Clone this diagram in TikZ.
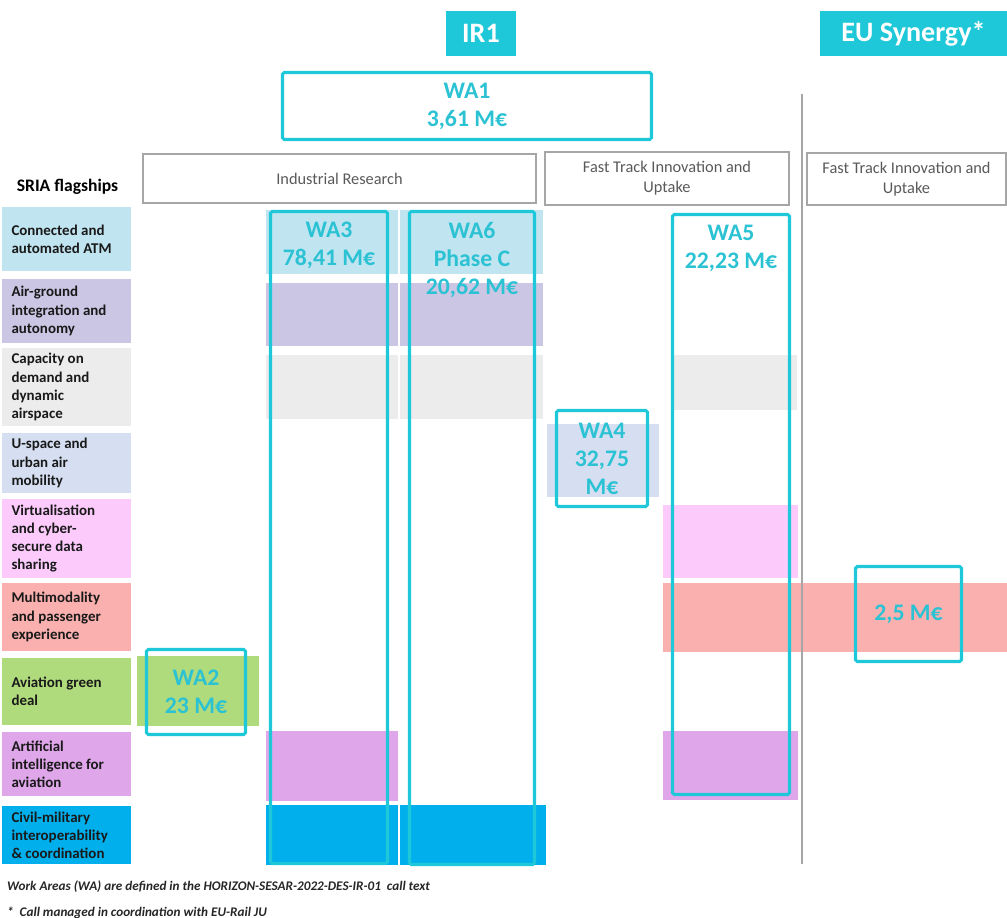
\documentclass[tikz,border=0pt]{standalone}
\usepackage{fontspec}
\setmainfont{Carlito}
\usepackage{tikz}
\usetikzlibrary{positioning,calc}
\definecolor{accent}{HTML}{1FC8D8}
\definecolor{accenttext}{HTML}{2BC2D3}
\definecolor{frame}{HTML}{A6A6A6}
\definecolor{rowblue}{HTML}{C0E4F0}
\definecolor{rowlav}{HTML}{CBC6E4}
\definecolor{rowgrey}{HTML}{ECECEC}
\definecolor{rowsky}{HTML}{D5DFF1}
\definecolor{rowpink}{HTML}{FCCBFC}
\definecolor{rowsalmon}{HTML}{F9B0AE}
\definecolor{rowgreen}{HTML}{AFDB7D}
\definecolor{rowviolet}{HTML}{E0A6EA}
\definecolor{rowcyan}{HTML}{00AFEC}

\begin{document}
\begin{tikzpicture}[
    head/.style={rectangle, fill=accent, text=white, font=\fontsize{16}{19}\selectfont\bfseries, minimum height=0.9cm},
    area/.style={rectangle, draw=frame, line width=1.5pt, text=black!65, font=\fontsize{9.3}{11.3}\selectfont, align=center},
    wa/.style={rectangle, draw=accent, line width=1.8pt, rounded corners=1pt},
    watext/.style={text=accenttext, font=\fontsize{13.5}{16}\selectfont\bfseries, align=center, inner sep=0pt},
    flag/.style={rectangle, minimum width=2.58cm, text width=2.2cm, inner xsep=0.19cm, align=flush left, font=\fontsize{8.5}{10.3}\selectfont\bfseries, text=black!90},
    note/.style={anchor=west, font=\fontsize{7.5}{9}\selectfont\bfseries\itshape, text=black!85}
]
    \useasboundingbox (0,0) rectangle (20.14,-18.36);

    % Titres
    \node[head, minimum width=1.40cm] (ir1) at (9.62,-0.67) {IR1};
    \node[head, minimum width=3.74cm] (eusyn) at (18.27,-0.67) {EU Synergy*};

    % Types d'action
    \node[area, minimum width=7.86cm, minimum height=0.98cm] (indres) at (6.79,-3.57) {Industrial Research};
    \node[area, minimum width=4.88cm, minimum height=1.06cm] (fasttrack) at (13.34,-3.57) {Fast Track Innovation and\\Uptake};
    \node[area, minimum width=3.98cm, minimum height=1.04cm] (fastsyn) at (18.13,-3.58) {Fast Track Innovation and\\Uptake};
    \draw[frame, line width=0.9pt] (16.04,-1.88) -- (16.04,-17.28);

    % Flagships SRIA
    \node[font=\fontsize{10}{12}\selectfont\bfseries] (sria) at (1.35,-3.74) {SRIA flagships};
    \foreach \n/\y/\h/\c/\t in {
        1/-4.78/1.28/rowblue/{Connected and\\automated ATM},
        2/-6.22/1.28/rowlav/{Air-ground\\integration and\\autonomy},
        3/-7.74/1.44/rowgrey/{Capacity on\\demand and\\dynamic\\airspace},
        4/-9.26/1.20/rowsky/{U-space and\\urban air\\mobility},
        5/-10.77/1.46/rowpink/{Virtualisation\\and cyber-\\secure data\\sharing},
        6/-12.34/1.36/rowsalmon/{Multimodality\\and passenger\\experience},
        7/-13.83/1.34/rowgreen/{Aviation green\\deal},
        8/-15.28/1.28/rowviolet/{Artificial\\intelligence for\\aviation},
        9/-16.70/1.16/rowcyan/{Civil-military\\interoperability\\\& coordination}} {
        \node[flag, fill=\c, minimum height=\h cm] (flag\n) at (1.33,\y) {\t};
    }

    % Bandes de couleur
    \foreach \xa/\xb in {5.32/7.96, 8.00/10.86} {
        \fill[rowblue] (\xa,-4.20) rectangle (\xb,-5.48);
        \fill[rowlav] (\xa,-5.66) rectangle (\xb,-6.92);
        \fill[rowgrey] (\xa,-7.10) rectangle (\xb,-8.38);
    }
    \fill[rowviolet] (5.32,-14.62) rectangle (7.96,-16.02);
    \fill[rowcyan] (5.32,-16.10) rectangle (7.96,-17.30);
    \fill[rowcyan] (8.00,-16.10) rectangle (10.92,-17.30);
    \fill[rowgrey] (13.46,-7.10) rectangle (15.94,-8.20);
    \fill[rowpink] (13.26,-10.10) rectangle (15.96,-11.56);
    \fill[rowsalmon] (13.26,-11.66) rectangle (20.14,-13.04);
    \fill[rowviolet] (13.26,-14.62) rectangle (15.96,-16.00);
    \fill[rowsky] (10.94,-8.48) rectangle (13.18,-9.94);
    \fill[rowgreen] (2.74,-13.12) rectangle (5.18,-14.52);
    \draw[frame, line width=0.9pt] (16.04,-11.66) -- (16.04,-13.04);

    % Work Areas
    \node[wa, watext, minimum width=7.38cm, minimum height=1.34cm] (wa1) at (9.34,-2.12) {WA1\\3,61 M€};
    \node[wa, watext, minimum width=1.98cm, minimum height=1.70cm] (wa2) at (3.92,-13.84) {WA2\\23 M€};
    \node[wa, minimum width=2.34cm, minimum height=13.04cm] (wa3) at (6.58,-10.75) {};
    \node[watext, anchor=north] (wa3t) at ([yshift=-0.24cm]wa3.north) {WA3\\78,41 M€};
    \node[wa, watext, minimum width=1.82cm, minimum height=1.92cm] (wa4) at (12.04,-9.17) {WA4\\32,75\\M€};
    \node[wa, minimum width=2.34cm, minimum height=11.60cm] (wa5) at (14.62,-10.09) {};
    \node[watext, anchor=north] (wa5t) at ([yshift=-0.24cm]wa5.north) {WA5\\22,23 M€};
    \node[wa, minimum width=2.50cm, minimum height=13.06cm] (wa6) at (9.44,-10.76) {};
    \node[watext, anchor=north] (wa6t) at ([yshift=-0.24cm]wa6.north) {WA6\\Phase C\\20,62 M€};
    \node[wa, watext, minimum width=2.12cm, minimum height=1.90cm] (syn) at (18.17,-12.28) {2,5 M€};

    % Notes
    \node[note] (note1) at (0.02,-17.74) {Work Areas (WA) are defined in the HORIZON-SESAR-2022-DES-IR-01\ \ call text};
    \node[note] (note2) at (0.02,-18.26) {*\ \ Call managed in coordination with EU-Rail JU};
\end{tikzpicture}
\end{document}
